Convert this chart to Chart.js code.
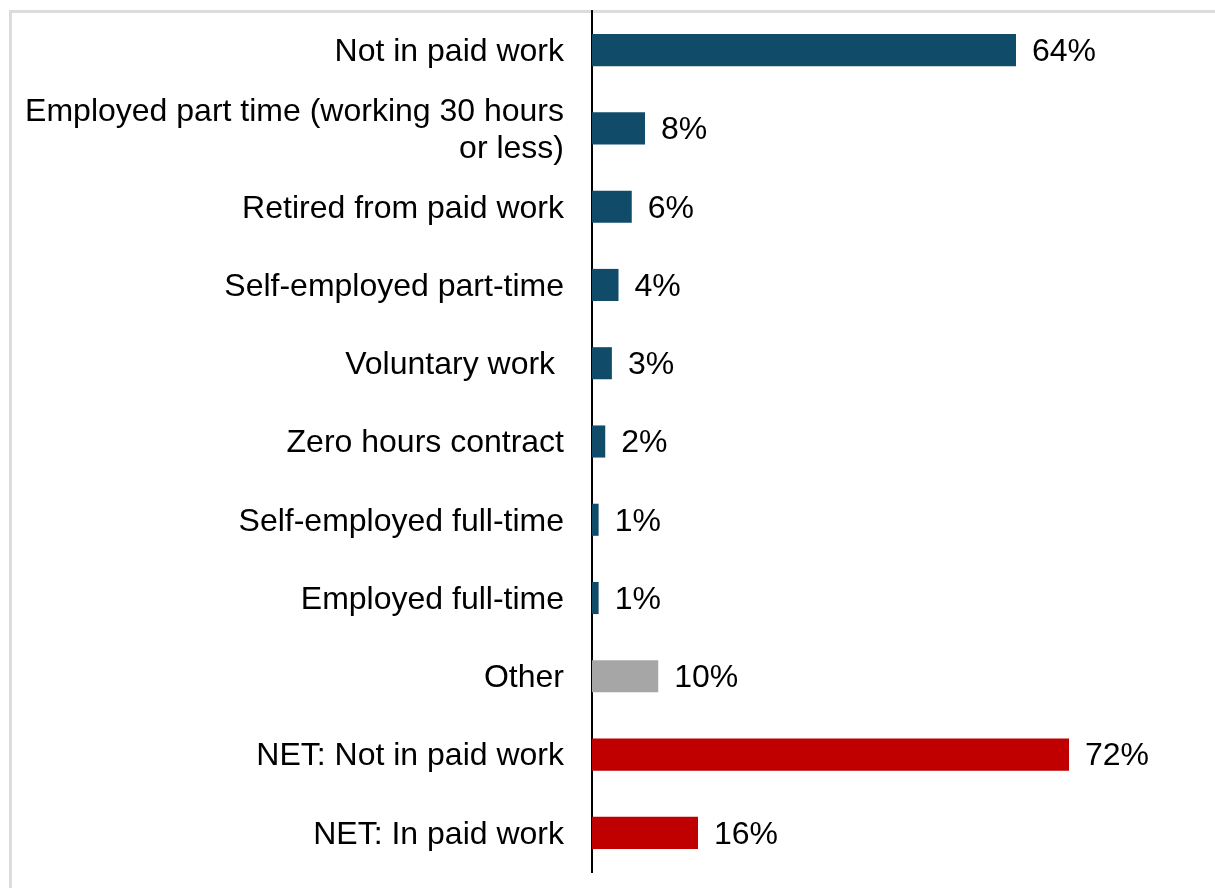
<!DOCTYPE html>
<html lang="en">

<head>
    <meta charset="UTF-8">
    <script src="https://cdn.jsdelivr.net/npm/chart.js"></script>
    <title>Work status</title>
    <style>
        body { margin: 0; background: #fff; }
        .moldura {
            position: absolute; left: 9px; top: 10px; right: 0; bottom: 0;
            border-left: 3px solid #dcdcdc; border-top: 3px solid #dcdcdc;
        }
        .grafico { position: absolute; left: 0; top: 0; width: 1215px; height: 888px; }
    </style>
</head>

<body>
    <div class="moldura"></div>
    <div class="grafico">
        <canvas id="graficoTrabalho"></canvas>
    </div>
</body>

</html>
<script>
    const categorias = [
        'Not in paid work',
        ['Employed part time (working 30 hours', 'or less)'],
        'Retired from paid work',
        'Self-employed part-time',
        'Voluntary work ',
        'Zero hours contract',
        'Self-employed full-time',
        'Employed full-time',
        'Other',
        'NET: Not in paid work',
        'NET: In paid work'
    ];
    const percentuais = [64, 8, 6, 4, 3, 2, 1, 1, 10, 72, 16];
    const cores = ['#104C6A', '#104C6A', '#104C6A', '#104C6A', '#104C6A', '#104C6A',
        '#104C6A', '#104C6A', '#A6A6A6', '#C00000', '#C00000'];

    const fonte = { family: '"Liberation Sans", Arial, sans-serif', size: 32 };

    // escreve o valor ao lado de cada barra
    const rotulosValor = {
        id: 'rotulosValor',
        afterDatasetsDraw(chart) {
            const c = chart.ctx;
            const meta = chart.getDatasetMeta(0);
            c.save();
            c.font = fonte.size + 'px ' + fonte.family;
            c.fillStyle = '#000';
            c.textAlign = 'left';
            c.textBaseline = 'middle';
            meta.data.forEach((barra, i) => {
                c.fillText(percentuais[i] + '%', barra.x + 16, barra.y + 2);
            });
            c.restore();
        }
    };

    new Chart(document.getElementById('graficoTrabalho'), {
        type: 'bar',
        data: {
            labels: categorias,
            datasets: [{
                data: percentuais,
                backgroundColor: cores,
                barPercentage: 0.41,
                categoryPercentage: 1
            }]
        },
        options: {
            indexAxis: 'y',
            responsive: true,
            maintainAspectRatio: false,
            animation: false,
            layout: { padding: { left: 0, top: 11, right: 93, bottom: 16 } },
            plugins: {
                legend: { display: false },
                tooltip: { enabled: false }
            },
            scales: {
                x: {
                    display: false,
                    min: 0,
                    max: 80
                },
                y: {
                    grid: { display: false, drawTicks: false },
                    border: { display: true, color: '#000', width: 2 },
                    ticks: {
                        color: '#000',
                        padding: 28,
                        labelOffset: 2,
                        font: { family: fonte.family, size: fonte.size, lineHeight: 1.15 }
                    },
                    afterFit(scale) {
                        scale.width = 592;
                        scale.paddingTop = 0;
                        scale.paddingBottom = 0;
                    }
                }
            }
        },
        plugins: [rotulosValor]
    });
</script>
